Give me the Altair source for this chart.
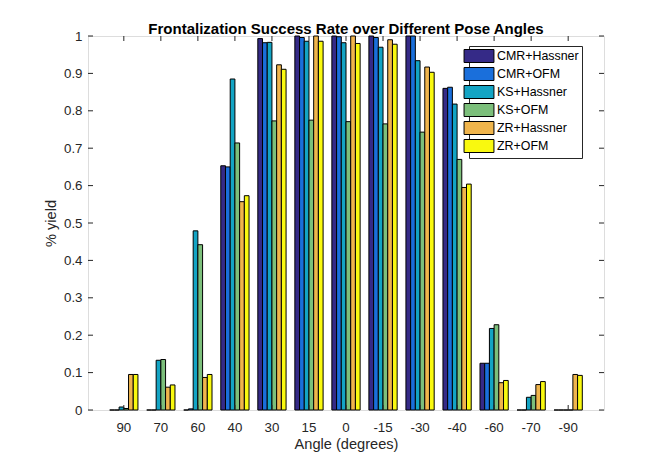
import altair as alt
import pandas as pd

angles = ["90", "70", "60", "40", "30", "15", "0", "-15", "-30", "-40", "-60", "-70", "-90"]
methods = ["CMR+Hassner", "CMR+OFM", "KS+Hassner", "KS+OFM", "ZR+Hassner", "ZR+OFM"]
colors = ["#352a87", "#1a6fdb", "#13a4c4", "#7cbf7b", "#f0b54c", "#f9f90f"]

cmr_hassner = [0.0, 0.0, 0.0, 0.653, 0.993, 1.0, 1.0, 1.0, 1.0, 0.860, 0.125, 0.0, 0.0]
cmr_ofm = [0.0, 0.0, 0.003, 0.650, 0.982, 0.996, 0.998, 0.996, 1.0, 0.863, 0.125, 0.0, 0.0]
ks_hassner = [0.008, 0.133, 0.479, 0.885, 0.983, 0.986, 0.982, 0.970, 0.934, 0.818, 0.218, 0.034, 0.0]
ks_ofm = [0.004, 0.135, 0.442, 0.714, 0.773, 0.775, 0.771, 0.765, 0.743, 0.670, 0.228, 0.039, 0.0]
zr_hassner = [0.095, 0.061, 0.087, 0.557, 0.923, 1.0, 1.0, 0.990, 0.917, 0.595, 0.073, 0.068, 0.095]
zr_ofm = [0.095, 0.067, 0.095, 0.573, 0.911, 0.986, 0.980, 0.978, 0.903, 0.604, 0.079, 0.076, 0.0925]

ytick_values = [0, 0.1, 0.2, 0.3, 0.4, 0.5, 0.6, 0.7, 0.8, 0.9, 1]

series = [cmr_hassner, cmr_ofm, ks_hassner, ks_ofm, zr_hassner, zr_ofm]
rows = []
for m, vals in zip(methods, series):
    for a, v in zip(angles, vals):
        rows.append({"angle": a, "method": m, "value": v})
df = pd.DataFrame(rows)

W, H = 516, 374
FONT = "Liberation Sans"
AX = "#262626"

x_scale = alt.Scale(domain=angles, paddingInner=0.237, paddingOuter=0.586)
x_axis = alt.Axis(title="Angle (degrees)", labelAngle=0, ticks=False, domain=False,
                  labelPadding=10, titlePadding=3, labelFontSize=13.3,
                  titleFontSize=14.6, labelFont=FONT, titleFont=FONT,
                  labelColor=AX, titleColor=AX, titleFontWeight="normal")
y_axis = alt.Axis(title="% yield", values=ytick_values, format="~g", ticks=False,
                  domain=False, grid=False, labelOverlap=False, labelPadding=6,
                  titlePadding=5, labelFontSize=13.3, titleFontSize=14.6,
                  labelFont=FONT, titleFont=FONT, labelColor=AX, titleColor=AX,
                  titleFontWeight="normal")

bars = alt.Chart(df).mark_bar(stroke="black", strokeWidth=1).encode(
    x=alt.X("angle:N", sort=angles, scale=x_scale, axis=x_axis),
    xOffset=alt.XOffset("method:N", sort=methods,
                        scale=alt.Scale(domain=methods, paddingInner=0, paddingOuter=0)),
    y=alt.Y("value:Q", scale=alt.Scale(domain=[0, 1], nice=False), axis=y_axis),
    color=alt.Color("method:N", sort=methods,
                    scale=alt.Scale(domain=methods, range=colors),
                    legend=alt.Legend(title=None, orient="none", legendX=381, legendY=10,
                                      symbolType="M-2.3,-1H2.3V1H-2.3Z", symbolSize=169,
                                      symbolStrokeColor="black", symbolStrokeWidth=1,
                                      symbolOpacity=1, labelFontSize=12.4, labelFont=FONT,
                                      labelColor="black", labelOffset=11, rowPadding=0,
                                      padding=3, strokeColor=AX, fillColor="white")),
)

ydf = pd.DataFrame({"value": ytick_values})
xdf = pd.DataFrame({"angle": angles})

ytl = alt.Chart(ydf).mark_rule(color=AX, strokeWidth=1).encode(
    y=alt.Y("value:Q", axis=y_axis), x=alt.value(0), x2=alt.value(5))
ytr = alt.Chart(ydf).mark_rule(color=AX, strokeWidth=1).encode(
    y=alt.Y("value:Q", axis=y_axis), x=alt.value(W - 5), x2=alt.value(W))
xtt = alt.Chart(xdf).mark_rule(color=AX, strokeWidth=1).encode(
    x=alt.X("angle:N", sort=angles, bandPosition=0.5, axis=x_axis),
    y=alt.value(0), y2=alt.value(5))
xtb = alt.Chart(xdf).mark_rule(color=AX, strokeWidth=1).encode(
    x=alt.X("angle:N", sort=angles, bandPosition=0.5, axis=x_axis),
    y=alt.value(H - 5), y2=alt.value(H))

chart = alt.layer(bars, ytl, ytr, xtt, xtb).properties(
    width=W, height=H,
    title=alt.Title("Frontalization Success Rate over Different Pose Angles",
                    fontSize=15, font=FONT, fontWeight="bold", color="black",
                    offset=4, dy=12, anchor="middle"),
    autosize=alt.AutoSizeParams(type="none"),
    padding={"left": 80, "top": 28, "right": 55, "bottom": 45},
).configure_view(stroke=AX, strokeWidth=1).configure(background="white").configure_legend(
    labelFontSize=12.4, labelFont=FONT, rowPadding=0, labelOffset=11, padding=3
)

chart.save("out.html", embed_options={"renderer": "svg", "actions": False})
